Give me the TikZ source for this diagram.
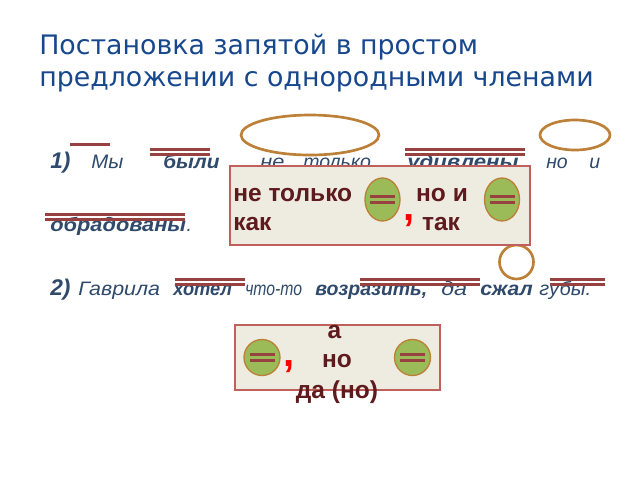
\documentclass[tikz,border=0pt]{standalone}
\usepackage{fontspec}
\usepackage{graphicx}
\setmainfont{Liberation Sans}
\newfontfamily\titlefont{DejaVu Sans}
\definecolor{titleblue}{HTML}{17478C}
\definecolor{bodyblue}{HTML}{2F4A6B}
\definecolor{linered}{HTML}{974240}
\definecolor{ringor}{HTML}{BC8038}
\definecolor{boxfill}{HTML}{EEEBE1}
\definecolor{boxline}{HTML}{C0605C}
\definecolor{darkred}{HTML}{5E1A1C}
\definecolor{leaf}{HTML}{9BBB59}
\tikzset{
  x=0.75pt,y=-0.75pt,
  titletext/.style={anchor=base west,inner sep=0,font=\titlefont\fontsize{20.1}{24}\selectfont,text=titleblue},
  bodytext/.style={anchor=base west,inner sep=0,font=\fontsize{14.6}{17}\selectfont\itshape,text=bodyblue},
  boldtext/.style={bodytext,font=\fontsize{14.6}{17}\selectfont\itshape\bfseries},
  numtext/.style={bodytext,font=\fontsize{17}{20}\selectfont\itshape\bfseries},
  boxtext/.style={anchor=base,inner sep=0,font=\fontsize{18.4}{21}\selectfont\bfseries,text=darkred},
  comma/.style={anchor=base,inner sep=0,font=\fontsize{30}{32}\selectfont\bfseries,text=red},
  underl/.style={draw=linered,line width=2pt},
  ring/.style={draw=ringor,line width=2pt},
  panel/.style={draw=boxline,line width=1.4pt,fill=boxfill},
  leafo/.style={draw=ringor,line width=1pt,fill=leaf},
}
\newcommand{\xs}[2]{\scalebox{#1}[1]{#2}}
\newcommand{\dbl}[3]{\draw[underl] (#1,#3-2.5) -- (#2,#3-2.5); \draw[underl] (#1,#3+2.5) -- (#2,#3+2.5);}
\newcommand{\mk}[2]{\draw[underl,line width=2.2pt] (#1-12.5,#2-3.4) -- (#1+12.5,#2-3.4); \draw[underl,line width=2.2pt] (#1-12.5,#2+3.4) -- (#1+12.5,#2+3.4);}
\begin{document}
\begin{tikzpicture}
\useasboundingbox (0,0) rectangle (640,480);
\fill[white] (0,0) rectangle (640,480);
\node[titletext] (t1) at (39,54.5) {Постановка запятой в простом};
\node[titletext] (t2) at (39,86) {предложении с однородными членами};
% sentence 1
\node[numtext] (n1) at (50,168) {1)};
\node[bodytext] (my) at (91,168) {\xs{1.05}{Мы}};
\node[boldtext] (byli) at (163,168) {\xs{1.07}{были}};
\node[bodytext] (ne) at (260,168) {\xs{1.12}{не}};
\node[bodytext] (tolko) at (303,168) {только};
\node[boldtext] (udiv) at (407,168) {\xs{1.14}{удивлены,}};
\node[bodytext] (no) at (546,168) {но};
\node[bodytext] (i) at (589,168) {и};
\node[boldtext] (obr) at (50,231) {\xs{1.12}{обрадованы}};
\node[bodytext] (dot) at (obr.base east) {.};
% sentence 2
\node[numtext] (n2) at (50,295) {2)};
\node[bodytext] (gav) at (78,295) {\xs{1.1}{Гаврила}};
\node[boldtext] (hot) at (173,295) {\xs{0.94}{хотел}};
\node[bodytext] (chto) at (245,295) {\xs{0.81}{что-то}};
\node[boldtext] (voz) at (315,295) {возразить,};
\node[bodytext] (da) at (441,295) {\xs{1.2}{да}};
\node[boldtext] (szh) at (480,295) {\xs{1.09}{сжал}};
\node[bodytext] (gub) at (539,295) {\xs{1.03}{губы.}};
% underlines
\draw[underl] (70,144.5) -- (110,144.5);
\dbl{150}{210}{152}
\dbl{405}{525}{152}
\dbl{45}{185}{217}
\dbl{175}{245}{282}
\dbl{360}{480}{282}
\dbl{550}{605}{282}
% rings
\draw[ring] (310,135) ellipse [x radius=69,y radius=20];
\draw[ring] (575,135) ellipse [x radius=35,y radius=15];
\draw[ring] (516.5,262) circle [radius=17];
% box 1
\draw[panel] (230,166) rectangle (530,245);
\node[boxtext,anchor=base west] (ntolko) at (233,201) {не только};
\node[boxtext,anchor=base west] (kak) at (233,230) {как};
\node[boxtext] (noi) at (442,201) {но и};
\node[boxtext] (tak) at (441,230) {так};
\node[comma] (c1) at (409.5,220) {,};
\draw[leafo] (382.5,199.5) ellipse [x radius=17.5,y radius=21.5];
\mk{382.5}{199.5}
\draw[leafo] (502,199.5) ellipse [x radius=17.5,y radius=21.5];
\mk{502}{199.5}
% box 2
\draw[panel] (235,325) rectangle (440,390);
\draw[leafo] (262,357.5) circle [radius=18];
\mk{262}{357.5}
\draw[leafo] (412.5,357.5) circle [radius=18];
\mk{412.5}{357.5}
\node[comma] (c2) at (289,366.5) {,};
\node[boxtext] (a) at (334.5,338) {а};
\node[boxtext] (nn) at (337,367.5) {но};
\node[boxtext] (dano) at (337,398) {да (но)};
\end{tikzpicture}
\end{document}
